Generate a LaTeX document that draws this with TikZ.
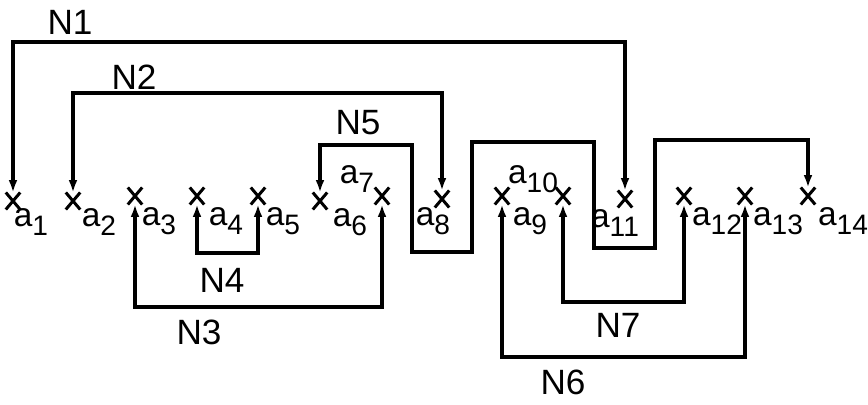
\documentclass[tikz,border=0pt]{standalone}
\usepackage{fontspec}
\setmainfont{Liberation Sans}
\usetikzlibrary{arrows.meta,shapes.misc}

\newcommand{\pinsub}[1]{\raisebox{-0.5ex}{\fontsize{16}{16}\selectfont #1}}

\begin{document}
\begin{tikzpicture}[x=0.02cm, y=-0.02cm,
  term/.style={cross out, draw, line width=1.7pt, minimum width=6.5pt, minimum height=8pt, inner sep=0pt},
  net/.style={line width=2pt, {Latex[length=7pt,width=5pt]}-{Latex[length=7pt,width=5pt]}},
  lbl/.style={font=\fontsize{19}{19}\selectfont, inner sep=0pt},
  netlbl/.style={font=\fontsize{20}{20}\selectfont, inner sep=0pt}]
  \useasboundingbox (0,0) rectangle (868,405);
  % pins
  \foreach \i/\x/\y in {1/13/201, 2/73/201, 3/135/196, 4/197/196, 5/258/196, 6/320/201, 7/382/196,
                        8/442/199, 9/502/196, 10/563/196, 11/625/199, 12/684/196, 13/745/196, 14/808/196}{
    \node[term] (p\i) at (\x,\y) {};
  }
  \foreach \i/\x/\y in {1/31/222, 2/99/222, 3/159/221, 4/226/221, 5/283/221, 6/350/222, 7/357/179,
                        8/433/221, 9/530/221, 10/533/179, 11/615/223, 12/717/221, 13/778/221, 14/843/221}{
    \node[lbl] (l\i) at (\x,\y) {a\pinsub{\i}};
  }
  % nets
  \draw[net] (p1) -- (13,42) -| (p11);
  \draw[net] (p2) -- (73,93) -| (p8);
  \draw[net] (p3) -- (135,307) -| (p7);
  \draw[net] (p4) -- (197,253) -| (p5);
  \draw[net] (p6) |- (412,145) |- (472,252) |- (594,142) |- (655,248) -- (655,140) -| (p14);
  \draw[net] (p9) -- (502,357) -| (p13);
  \draw[net] (p10) -- (563,302) -| (p12);
  \node[netlbl] (n1) at (70,22) {N1};
  \node[netlbl] (n2) at (134,77) {N2};
  \node[netlbl] (n3) at (199,332) {N3};
  \node[netlbl] (n4) at (222,280) {N4};
  \node[netlbl] (n5) at (358,123) {N5};
  \node[netlbl] (n6) at (563,382) {N6};
  \node[netlbl] (n7) at (618,325) {N7};
\end{tikzpicture}
\end{document}
